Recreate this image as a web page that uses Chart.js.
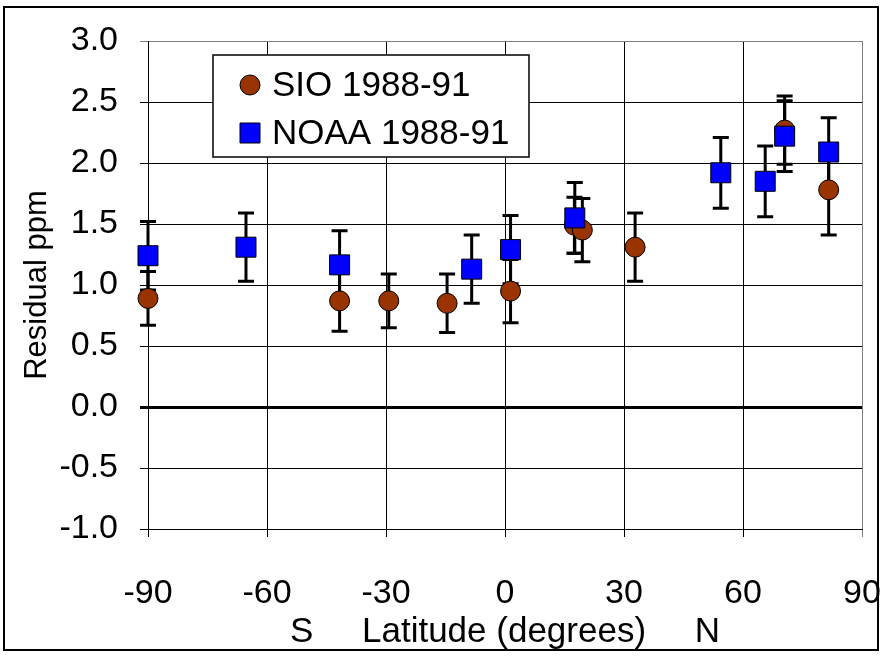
<!DOCTYPE html>
<html>
<head>
<meta charset="utf-8">
<script src="https://cdn.jsdelivr.net/npm/chart.js@4.4.0/dist/chart.umd.min.js"></script>
<style>
  html, body { margin: 0; padding: 0; background: #fff; }
  #wrap { width: 882px; height: 656px; }
</style>
</head>
<body>
<div id="wrap"><canvas id="chart" width="882" height="656"></canvas></div>
<script>
// data
const sioLat = [-90, -41.7, -29.3, -14.6, 1.4, 17.5, 19.5, 32.8, 70.5, 81.6];
const sioVal = [0.89, 0.87, 0.87, 0.85, 0.95, 1.49, 1.45, 1.31, 2.27, 1.78];
const sioErr = [0.22, 0.25, 0.22, 0.24, 0.26, 0.23, 0.26, 0.28, 0.28, 0.37];

const noaaLat = [-90, -65.3, -41.7, -8.4, 1.4, 17.6, 54.4, 65.6, 70.5, 81.6];
const noaaVal = [1.24, 1.31, 1.165, 1.13, 1.29, 1.55, 1.92, 1.85, 2.22, 2.09];
const noaaErr = [0.28, 0.28, 0.28, 0.28, 0.28, 0.29, 0.29, 0.29, 0.29, 0.28];

const xTicks = [-90, -60, -30, 0, 30, 60, 90];
const yTicks = [-1.0, -0.5, 0.0, 0.5, 1.0, 1.5, 2.0, 2.5, 3.0];

const FONT = "'Liberation Sans', Arial, sans-serif";

// all error bars go under all markers
const errorBars = {
  id: "errorBars",
  beforeDatasetsDraw(chart) {
    const yScale = chart.scales.y;
    const ctx = chart.ctx;
    ctx.save();
    ctx.strokeStyle = "#000";
    ctx.lineWidth = 3;
    chart.data.datasets.forEach((ds, d) => {
      const meta = chart.getDatasetMeta(d);
      meta.data.forEach((pt, i) => {
        const v = ds.data[i].y;
        const e = ds.errors[i];
        const top = yScale.getPixelForValue(v + e);
        const bot = yScale.getPixelForValue(v - e);
        ctx.beginPath();
        ctx.moveTo(pt.x, top);
        ctx.lineTo(pt.x, bot);
        ctx.moveTo(pt.x - 8, top);
        ctx.lineTo(pt.x + 8, top);
        ctx.moveTo(pt.x - 8, bot);
        ctx.lineTo(pt.x + 8, bot);
        ctx.stroke();
      });
    });
    ctx.restore();
  },
};

// white page + outer frame, and the boxed legend inside the plot
const frameAndLegend = {
  id: "frameAndLegend",
  beforeDraw(chart) {
    const ctx = chart.ctx;
    ctx.save();
    ctx.fillStyle = "#fff";
    ctx.fillRect(0, 0, chart.width, chart.height);
    ctx.strokeStyle = "#000";
    ctx.lineWidth = 2;
    ctx.strokeRect(4, 7, 874, 643);
    ctx.restore();
  },
  afterDraw(chart) {
    const ctx = chart.ctx;
    ctx.save();
    ctx.fillStyle = "#fff";
    ctx.fillRect(213, 55, 316, 102);
    ctx.strokeStyle = "#000";
    ctx.lineWidth = 1.5;
    ctx.strokeRect(213, 55, 316, 102);
    const rows = [85, 133];
    chart.data.datasets.forEach((ds, i) => {
      const y = rows[i];
      ctx.fillStyle = ds.backgroundColor;
      ctx.strokeStyle = "#000";
      ctx.lineWidth = 1;
      ctx.beginPath();
      if (ds.pointStyle === "circle") ctx.arc(250, y, 10, 0, Math.PI * 2);
      else ctx.rect(240, y - 10, 20, 20);
      ctx.fill();
      ctx.stroke();
      ctx.fillStyle = "#000";
      ctx.font = "35px " + FONT;
      ctx.textBaseline = "middle";
      ctx.fillText(ds.label, 272, y + 1);
    });
    ctx.restore();
  },
};

const ctx = document.getElementById("chart").getContext("2d");
new Chart(ctx, {
  type: "scatter",
  data: {
    datasets: [
      {
        label: "SIO 1988-91",
        data: sioLat.map((x, i) => ({ x: x, y: sioVal[i] })),
        errors: sioErr,
        order: 1,
        pointStyle: "circle",
        pointRadius: 10,
        backgroundColor: "#993300",
        borderColor: "#000",
        borderWidth: 1,
        clip: false,
      },
      {
        label: "NOAA 1988-91",
        data: noaaLat.map((x, i) => ({ x: x, y: noaaVal[i] })),
        errors: noaaErr,
        order: 0,
        pointStyle: "rect",
        pointRadius: 14.14,
        backgroundColor: "#0000ff",
        borderColor: "#000",
        borderWidth: 1,
        clip: false,
      },
    ],
  },
  options: {
    responsive: false,
    animation: false,
    devicePixelRatio: 1,
    layout: { padding: { left: 0, top: 41, right: 20, bottom: 0 } },
    plugins: { legend: { display: false }, tooltip: { enabled: false } },
    scales: {
      x: {
        type: "linear",
        min: -90,
        max: 90,
        afterBuildTicks: (s) => { s.ticks = xTicks.map((v) => ({ value: v })); },
        afterFit: (s) => {
          s.height = 656 - 529;
          s.paddingLeft = 0;
          s.paddingRight = 0;
        },
        ticks: {
          color: "#000",
          font: { size: 34, family: FONT },
          padding: 36,
          maxRotation: 0,
        },
        grid: {
          color: (c) => (c.tick && c.tick.value === 90 ? "#808080" : "#000"),
          lineWidth: 1,
          tickLength: 8,
        },
        border: { color: "#000", width: 1 },
        title: {
          display: true,
          text: "S     Latitude (degrees)     N",
          color: "#000",
          font: { size: 35, family: FONT },
          padding: { top: 0, bottom: 3 },
        },
      },
      y: {
        type: "linear",
        min: -1,
        max: 3,
        afterBuildTicks: (s) => { s.ticks = yTicks.map((v) => ({ value: v })); },
        afterFit: (s) => {
          s.width = 148;
          s.paddingTop = 0;
          s.paddingBottom = 0;
        },
        ticks: {
          color: "#000",
          font: { size: 34, family: FONT },
          padding: 22,
          callback: (v) => Number(v).toFixed(1),
        },
        grid: {
          color: (c) => (c.tick && c.tick.value === 3 ? "#808080" : "#000"),
          lineWidth: (c) => (c.tick && c.tick.value === 0 ? 3 : 1),
          tickLength: 8,
        },
        border: { color: "#000", width: 1 },
        title: {
          display: true,
          text: "Residual ppm",
          color: "#000",
          font: { size: 31, family: FONT },
          padding: { top: 19, bottom: 0 },
        },
      },
    },
  },
  plugins: [errorBars, frameAndLegend],
});
</script>
</body>
</html>
